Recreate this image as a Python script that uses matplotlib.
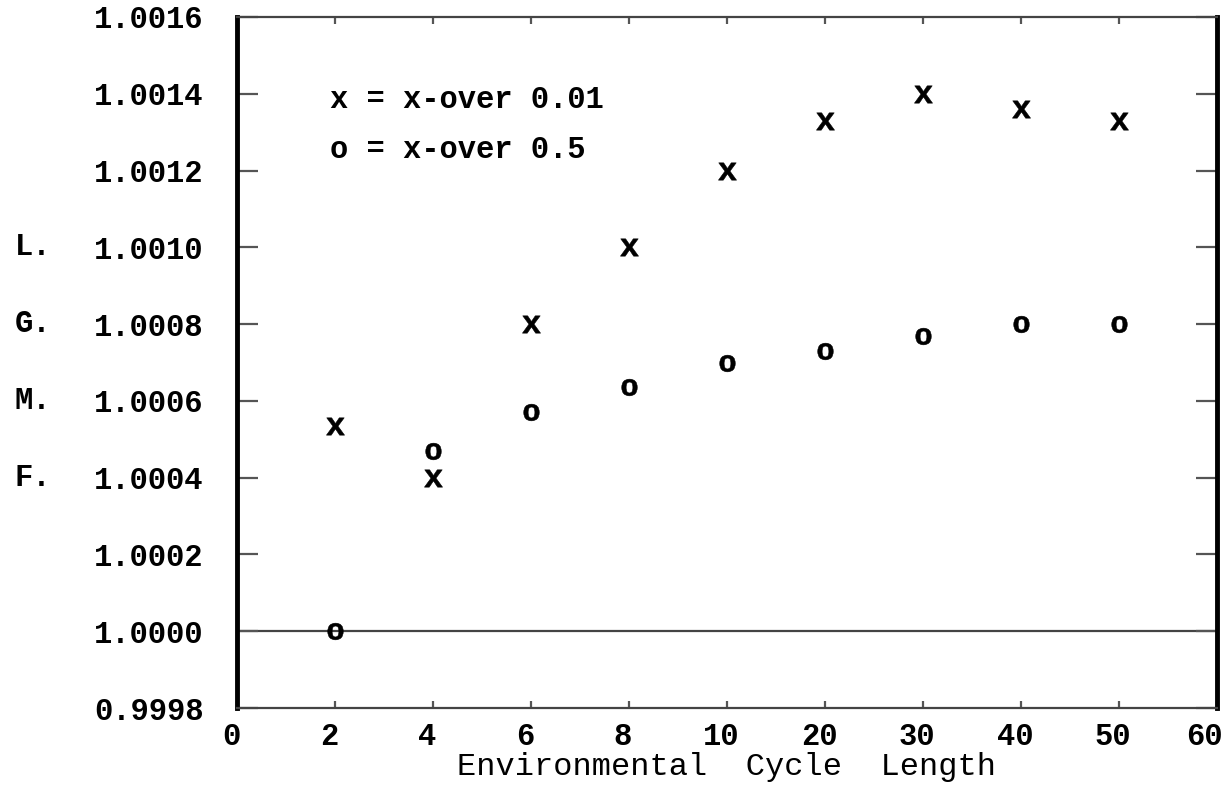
import matplotlib
matplotlib.use("Agg")
import matplotlib.pyplot as plt
from matplotlib.transforms import blended_transform_factory, ScaledTranslation

# categories on the x axis (equally spaced, not to scale)
tick_labels = ["0", "2", "4", "6", "8", "10", "20", "30", "40", "50", "60"]
cycle_lengths = ["2", "4", "6", "8", "10", "20", "30", "40", "50"]

# geometric mean fitness
xover_001 = [1.000535, 1.00040, 1.00080, 1.00100, 1.00120, 1.00133, 1.00140, 1.00136, 1.00133]
xover_05 = [1.00000, 1.00047, 1.00057, 1.000635, 1.00070, 1.00073, 1.00077, 1.00080, 1.00080]

y_ticks = [0.9998, 1.0000, 1.0002, 1.0004, 1.0006, 1.0008, 1.0010, 1.0012, 1.0014, 1.0016]
side_letters = ["L.", "G.", "M.", "F."]
side_letter_at = [1.0010, 1.0008, 1.0006, 1.0004]

FONT = "Liberation Mono"
FS = 22
plt.rcParams["font.family"] = FONT
plt.rcParams["font.weight"] = "bold"
plt.rcParams["mathtext.fontset"] = "custom"
plt.rcParams["mathtext.rm"] = "Liberation Mono:bold"


def main():
    fig = plt.figure(figsize=(12.3, 7.86), dpi=100)
    ax = fig.add_axes([0.1927, 0.0992, 0.7967, 0.8792])

    pos = {lab: i for i, lab in enumerate(tick_labels)}
    xs = [pos[c] for c in cycle_lengths]

    ax.plot(xs, xover_001, linestyle="none", marker=r"$\mathrm{x}$",
            markersize=13, color="black", markeredgewidth=0.4)
    ax.plot(xs, xover_05, linestyle="none", marker=r"$\mathrm{o}$",
            markersize=12, color="black", markeredgewidth=0.4)

    ax.axhline(1.0000, color="#444444", lw=1.6, zorder=0)

    ax.set_xlim(0, len(tick_labels) - 1)
    ax.set_ylim(y_ticks[0], y_ticks[-1])
    ax.set_xticks(range(len(tick_labels)))
    ax.set_xticklabels(tick_labels)
    ax.set_yticks(y_ticks)
    ax.set_yticklabels([f"{v:.4f}" for v in y_ticks])

    ax.tick_params(axis="y", direction="in", length=15, width=1.6, color="#555555",
                   left=True, right=True, labelsize=FS, pad=24)
    ax.tick_params(axis="x", direction="in", length=5, width=1.6, color="#555555",
                   top=True, bottom=True, labelsize=FS, pad=10)

    # the printed labels sit a little left of their ticks; the last one more so
    labels = ax.get_xticklabels()
    for i, lab in enumerate(labels):
        dx = -13 if i == len(labels) - 1 else -6
        lab.set_transform(lab.get_transform() + ScaledTranslation(dx / 100, 0, fig.dpi_scale_trans))

    for side in ["left", "right"]:
        ax.spines[side].set_linewidth(3.5)
    for side in ["top", "bottom"]:
        ax.spines[side].set_linewidth(1.6)
        ax.spines[side].set_color("#444444")

    ax.set_xlabel("Environmental  Cycle  Length", fontsize=23, labelpad=0)

    trans = blended_transform_factory(fig.transFigure, ax.transData)
    for letter, y in zip(side_letters, side_letter_at):
        ax.text(0.012, y, letter, transform=trans, fontsize=FS,
                ha="left", va="center")

    ax.text(0.095, 0.88, "x = x-over 0.01", transform=ax.transAxes,
            fontsize=FS, ha="left", va="center")
    ax.text(0.095, 0.807, "o = x-over 0.5", transform=ax.transAxes,
            fontsize=FS, ha="left", va="center")

    fig.savefig("out.png", dpi=100)


if __name__ == "__main__":
    main()
